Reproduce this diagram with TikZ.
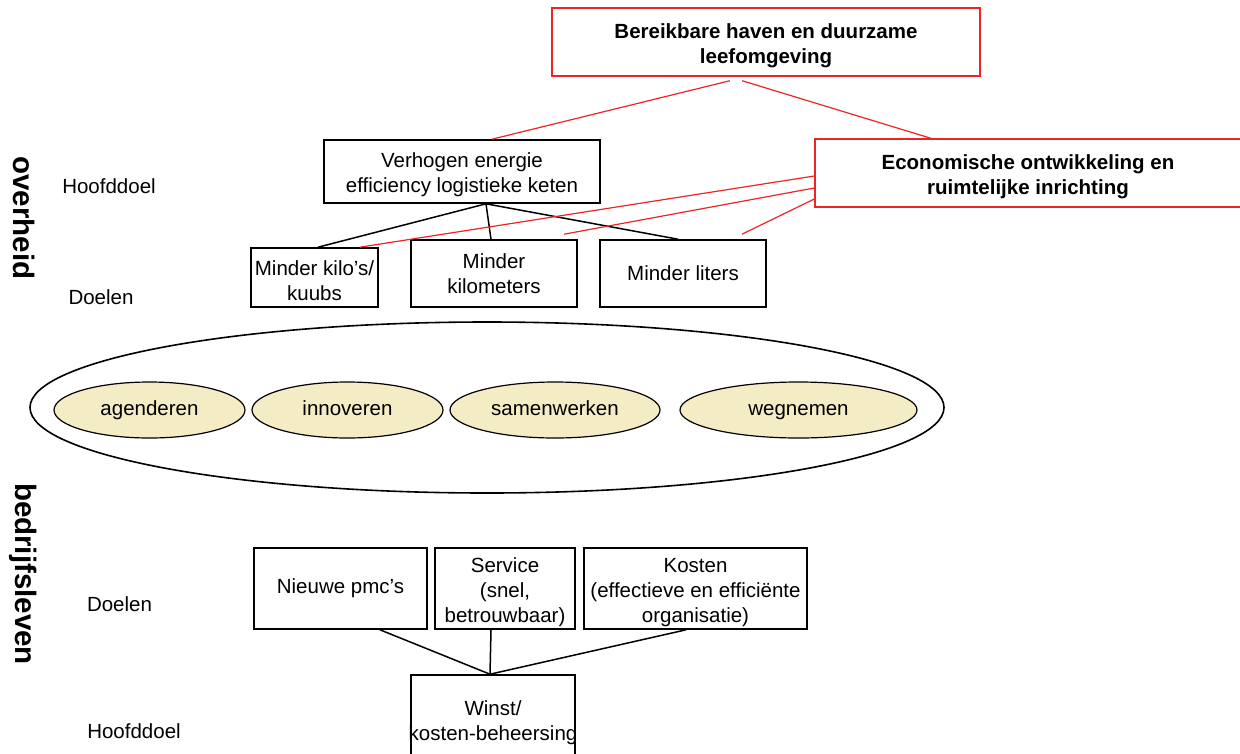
\documentclass[tikz,border=0pt]{standalone}
\usepackage{fontspec}
\setmainfont{Liberation Sans}
\usetikzlibrary{shapes.geometric}
\definecolor{goalred}{RGB}{238,36,36}
\definecolor{actfill}{RGB}{244,236,196}
% extra height on the first line of a multi-line box, to set its text a little lower
\newcommand{\firstlinepad}{\rule{0pt}{22pt}}
\begin{document}
\begin{tikzpicture}[x=1pt,y=-1pt,
  every node/.style={font=\fontsize{20.5}{25}\selectfont, inner sep=0pt, align=center},
  blackbox/.style={draw=black, line width=1.6pt, rectangle},
  redbox/.style={draw=goalred, line width=1.4pt, rectangle, font=\fontsize{20.5}{25}\selectfont\bfseries},
  redlink/.style={draw=goalred, line width=1.2pt},
  blacklink/.style={draw=black, line width=1.5pt},
  activity/.style={ellipse, draw=black, line width=1.2pt, fill=actfill, minimum height=56pt, text height=14pt, text depth=4pt},
  side/.style={rotate=-90, font=\fontsize{29.5}{29.5}\selectfont\bfseries},
]
\useasboundingbox (0,0) rectangle (1240,753);

% side labels
\node[side] (overheid) at (24,218) {overheid};
\node[side] (bedrijf) at (23,574) {bedrijfsleven};
\node (lvl1) at (109,186) {Hoofddoel};
\node (lvl2) at (101,297) {Doelen};
\node (lvl3) at (119.5,604) {Doelen};
\node (lvl4) at (134,731) {Hoofddoel};

% government goals
\node[redbox, minimum width=428, minimum height=68] (top) at (766,42) {\firstlinepad Bereikbare haven en duurzame\\leefomgeving};
\node[blackbox, minimum width=276, minimum height=63] (verh) at (462,171.5) {\firstlinepad Verhogen energie\\efficiency logistieke keten};
\node[redbox, minimum width=426, minimum height=68] (econ) at (1028,173) {\firstlinepad Economische ontwikkeling en\\ruimtelijke inrichting};
\node[blackbox, minimum width=127, minimum height=59] (kilo) at (314.5,277.5) {\firstlinepad Minder kilo’s/\\kuubs};
\node[blackbox, minimum width=166, minimum height=67] (km) at (494,273.5) {Minder\\kilometers};
\node[blackbox, minimum width=166, minimum height=67] (liters) at (683,273.5) {Minder liters};

% activities
\node[ellipse, draw=black, line width=1.6pt, minimum width=914, minimum height=171] (group) at (487,407.5) {};
\node[activity, minimum width=191] (agend) at (149.5,410) {agenderen};
\node[activity, minimum width=191] (innov) at (347.5,410) {innoveren};
\node[activity, minimum width=210] (samen) at (555,410) {samenwerken};
\node[activity, minimum width=237] (wegn) at (798.5,410) {wegnemen};

% business goals
\node[blackbox, minimum width=173, minimum height=81] (pmc) at (340.5,588.5) {Nieuwe pmc’s};
\node[blackbox, minimum width=140, minimum height=81] (service) at (505,588.5) {\firstlinepad Service\\(snel,\\betrouwbaar)};
\node[blackbox, minimum width=223, minimum height=81] (kosten) at (695.5,588.5) {\firstlinepad Kosten\\(effectieve en efficiënte\\organisatie)};
\node[blackbox, minimum width=164, minimum height=88] (winst) at (493,719) {};
\node (winsttxt) at (493,722.5) {Winst/\\kosten-beheersing};

% black connectors
\draw[blacklink] ([xshift=24pt]verh.south) -- ([xshift=3.5pt]kilo.north);
\draw[blacklink] ([xshift=24pt]verh.south) -- ([xshift=-3pt]km.north);
\draw[blacklink] ([xshift=24pt]verh.south) -- ([xshift=-5pt]liters.north);
\draw[blacklink] ([xshift=39.5pt]pmc.south) -- ([xshift=-3pt]winst.north);
\draw[blacklink] ([xshift=-14pt]service.south) -- ([xshift=-3pt]winst.north);
\draw[blacklink] ([xshift=-9.5pt]kosten.south) -- ([xshift=-3pt]winst.north);

% red connectors
\draw[redlink] ([xshift=-36pt,yshift=-4pt]top.south) -- ([xshift=30pt]verh.north);
\draw[redlink] ([xshift=-24pt,yshift=-4pt]top.south) -- ([xshift=-97pt]econ.north);
\draw[redlink] ([yshift=-3pt]econ.west) -- ([xshift=45.5pt]kilo.north);
\draw[redlink] ([yshift=-15pt]econ.west) -- ([xshift=70pt,yshift=5pt]km.north);
\draw[redlink] ([yshift=-26pt]econ.west) -- ([xshift=59pt,yshift=5pt]liters.north);
\end{tikzpicture}
\end{document}
